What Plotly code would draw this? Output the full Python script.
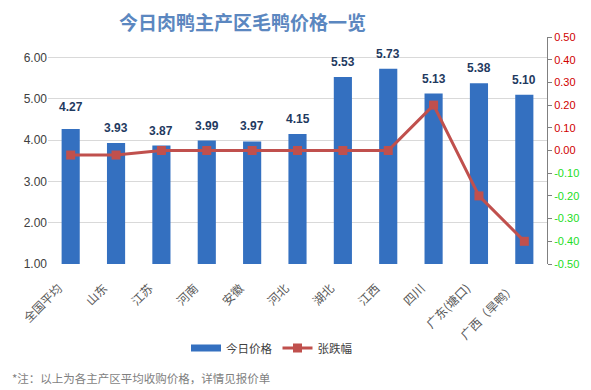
import plotly.graph_objects as go

categories = ["全国平均", "山东", "江苏", "河南", "安徽", "河北", "湖北", "江西", "四川", "广东(塘口)", "广西（旱鸭）"]
prices = [4.27, 3.93, 3.87, 3.99, 3.97, 4.15, 5.53, 5.73, 5.13, 5.38, 5.10]
changes = [-0.02, -0.02, 0.00, 0.00, 0.00, 0.00, 0.00, 0.00, 0.20, -0.20, -0.40]
left_ticks = [1, 2, 3, 4, 5, 6]
right_ticks = [0.5, 0.4, 0.3, 0.2, 0.1, 0.0, -0.1, -0.2, -0.3, -0.4, -0.5]

FONT = "Noto Sans CJK SC, Microsoft YaHei, sans-serif"
label_shift = [22] + [15] * (len(prices) - 1)
BAR_COLOR = "#3470C0"

fig = go.Figure()
fig.add_trace(go.Bar(
    x=categories, y=prices, name="今日价格", showlegend=False,
    marker=dict(color=BAR_COLOR, line=dict(width=0)),
    width=0.4, yaxis="y",
))
# legend entry for bars (wide rectangle swatch like the reference)
fig.add_trace(go.Scatter(
    x=[None], y=[None], name="今日价格", mode="lines",
    line=dict(color=BAR_COLOR, width=7), yaxis="y",
))
fig.add_trace(go.Scatter(
    x=categories, y=changes, name="张跌幅", yaxis="y2",
    mode="lines+markers",
    line=dict(color="#C0504D", width=3),
    marker=dict(symbol="square", size=9, color="#C0504D"),
))

for c, v, s in zip(categories, prices, label_shift):
    fig.add_annotation(x=c, y=v, xref="x", yref="y", text=f"<b>{v:.2f}</b>",
                       showarrow=False, yanchor="middle", yshift=s,
                       font=dict(size=12, color="#1F3A5F", family="Liberation Sans, Arial"))

def rcol(v):
    return "#D00000" if v >= 0 else "#22DD22"

right_text = [f"<span style='color:{rcol(v)}'>{v:.2f}</span>" for v in right_ticks]

fig.update_layout(
    width=591, height=390,
    margin=dict(l=48, r=44, t=37, b=126, autoexpand=False),
    paper_bgcolor="white", plot_bgcolor="white",
    font=dict(family=FONT, size=11, color="#595959"),
    showlegend=True,
    legend=dict(orientation="h", x=(186 - 48) / 499, xanchor="left", y=-(348 - 264) / 227, yanchor="middle",
                font=dict(size=11.5, color="#404040", family=FONT),
                itemwidth=30, traceorder="normal", bgcolor="rgba(0,0,0,0)"),
    xaxis=dict(range=[-0.5, len(categories) - 0.5], tickangle=-45,
               tickfont=dict(size=12, color="#595959", family=FONT),
               ticklabelstandoff=14, ticklabelshift=-12,
               showgrid=False, showline=False, ticks="", automargin=False),
    yaxis=dict(range=[1, 6.5], tickvals=left_ticks, ticktext=[f"{v:.2f}" for v in left_ticks],
               showgrid=True, gridcolor="#D9D9D9", gridwidth=1, zeroline=False,
               tickfont=dict(size=12, color="#404040", family="Liberation Sans, Arial"),
               ticks="", showline=False, automargin=False),
    yaxis2=dict(range=[-0.5, 0.5], overlaying="y", side="right",
                tickvals=right_ticks, ticktext=right_text,
                showgrid=False, zeroline=False, showline=True, linecolor="#808080", linewidth=1,
                ticks="outside", ticklen=4, tickcolor="#808080", automargin=False,
                tickfont=dict(size=11, family="Liberation Sans, Arial")),
)

fig.add_annotation(xref="paper", yref="paper", x=(242 - 48) / 499, y=1 + 15 / 227,
                   text="<b>今日肉鸭主产区毛鸭价格一览</b>", showarrow=False,
                   xanchor="center", yanchor="middle",
                   font=dict(size=19, color="#5B87C0", family=FONT))
fig.add_annotation(xref="paper", yref="paper", x=(10 - 48) / 499, y=-(378 - 264) / 227,
                   text="*注：以上为各主产区平均收购价格，详情见报价单", showarrow=False,
                   xanchor="left", yanchor="middle",
                   font=dict(size=11.5, color="#7F7F7F", family=FONT))

fig.write_html("out.html", config={"displayModeBar": False},
               post_script="document.body.style.margin='0';document.body.style.overflow='hidden';")
